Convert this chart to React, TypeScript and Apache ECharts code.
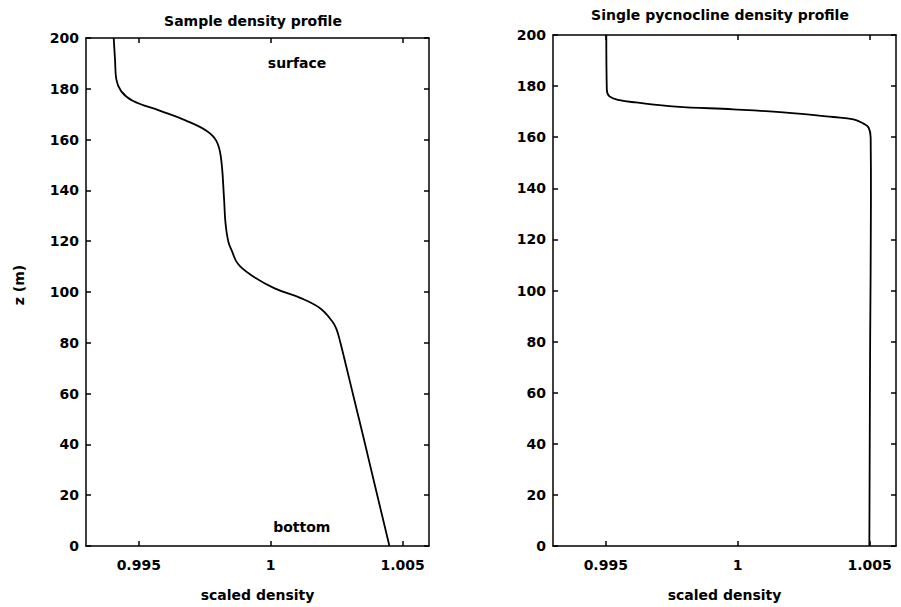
import React, { useEffect, useRef } from "react";
import * as echarts from "echarts";

// Left panel: sample density profile (z in m, scaled density)
const leftZ = [200, 191.5, 183.7, 179.1, 175.3, 171.4, 167.5, 163.6, 159.7, 153.3, 137.1, 129.3, 125.0, 121.6, 118.9, 116.4, 111.2, 106.7, 101.5, 97.6, 93.7, 88.5, 85.5, 80.1, 70.0, 56.7, 43.9, 33.4, 0];
const leftDensity = [0.99405, 0.9941, 0.99415, 0.99433, 0.99477, 0.99579, 0.99679, 0.99755, 0.99793, 0.99811, 0.99823, 0.99827, 0.99831, 0.99836, 0.99842, 0.99852, 0.99875, 0.99925, 1.00013, 1.00114, 1.00186, 1.00233, 1.00249, 1.00264, 1.00288, 1.00319, 1.00349, 1.00373, 1.0045];

// Right panel: single pycnocline density profile
const rightZ = [200, 178.6, 176.0, 174.5, 173.6, 172.0, 170.9, 169.7, 167.9, 167.0, 165.3, 163.8, 159.9, 136, 80, 27.2, 0];
const rightDensity = [0.99502, 0.99504, 0.99514, 0.99552, 0.99614, 0.99766, 0.99983, 1.00173, 1.00363, 1.00439, 1.00477, 1.00496, 1.00504, 1.00505, 1.00502, 1.005, 1.00499];

// Axis ticks
const xTicks = [0.995, 1, 1.005];
const xMin = 0.993;
const xMax = 1.006;
const zMin = 0;
const zMax = 200;
const zStep = 20;

// Annotations in the left panel
const noteLabels = ["surface", "bottom"];
const noteDensity = [1.001, 1.00118];
const noteZ = [190.2, 7.6];

const titles = ["Sample density profile", "Single pycnocline density profile"];
const xName = "scaled density";
const yName = "z (m)";

const FONT = "DejaVu Sans";
const textBase = { fontFamily: FONT, fontWeight: "bold" as const, fontSize: 14, color: "#000" };
const lineSt = { color: "#000", width: 1.5 };

function xAxisPair(gridIndex: number) {
  const common = {
    gridIndex,
    type: "value" as const,
    min: xMin,
    max: xMax,
    splitLine: { show: false },
    axisLine: { show: true, onZero: false, lineStyle: lineSt },
    axisTick: { show: true, inside: true, length: 5, customValues: xTicks, lineStyle: lineSt },
  };
  return [
    {
      ...common,
      position: "bottom",
      axisLabel: {
        ...textBase,
        margin: 12,
        customValues: xTicks,
        formatter: (v: number) => String(+v.toFixed(3)),
      },
      name: xName,
      nameLocation: "middle",
      nameGap: 42,
      nameTextStyle: textBase,
    },
    { ...common, position: "top", axisLabel: { show: false } },
  ];
}

function yAxisPair(gridIndex: number, withName: boolean) {
  const common = {
    gridIndex,
    type: "value" as const,
    min: zMin,
    max: zMax,
    interval: zStep,
    splitLine: { show: false },
    axisLine: { show: true, onZero: false, lineStyle: lineSt },
    axisTick: { show: true, inside: true, length: 5, lineStyle: lineSt },
  };
  return [
    {
      ...common,
      position: "left",
      axisLabel: { ...textBase, margin: 7 },
      ...(withName
        ? {
            name: yName,
            nameLocation: "middle",
            nameGap: 60,
            nameRotate: 90,
            nameTextStyle: { ...textBase, padding: [0, 0, 0, 14] },
          }
        : {}),
    },
    { ...common, position: "right", axisLabel: { show: false } },
  ];
}

export default function App() {
  const ref = useRef<HTMLDivElement>(null);
  useEffect(() => {
    if (!ref.current) return;
    const chart = echarts.init(ref.current, undefined, { renderer: "svg" });
    const option = {
      animation: false,
      backgroundColor: "#fff",
      title: [
        { text: titles[0], left: 248, top: 9, textAlign: "center", textStyle: textBase },
        { text: titles[1], left: 715, top: 3, textAlign: "center", textStyle: textBase },
      ],
      grid: [
        { left: 86, top: 38, width: 343, height: 515, containLabel: false },
        { left: 553, top: 35, width: 343, height: 515, containLabel: false },
      ],
      xAxis: [...xAxisPair(0), ...xAxisPair(1)],
      yAxis: [...yAxisPair(0, true), ...yAxisPair(1, false)],
      series: [
        {
          type: "line",
          xAxisIndex: 0,
          yAxisIndex: 0,
          data: leftZ.map((z, i) => [leftDensity[i], z]),
          symbol: "none",
          smooth: 0.4,
          lineStyle: { color: "#000", width: 1.8 },
        },
        {
          type: "line",
          xAxisIndex: 2,
          yAxisIndex: 2,
          data: rightZ.map((z, i) => [rightDensity[i], z]),
          symbol: "none",
          smooth: 0.4,
          lineStyle: { color: "#000", width: 1.8 },
        },
      ],
    };
    chart.setOption(option as any);
    // Place annotations using the library's own coordinate conversion
    const notes = noteLabels.map((t, i) => {
      const p = chart.convertToPixel({ xAxisIndex: 0, yAxisIndex: 0 } as any, [noteDensity[i], noteZ[i]]) as number[];
      return {
        type: "text",
        x: p[0],
        y: p[1],
        style: {
          text: t,
          fill: "#000",
          font: `bold 14px '${FONT}'`,
          textAlign: "center",
          textVerticalAlign: "middle",
        },
      };
    });
    chart.setOption({ graphic: notes } as any);
    return () => chart.dispose();
  }, []);
  return (
    <div
      ref={ref}
      style={{ position: "absolute", left: 0, top: 0, width: 901, height: 607, background: "#fff" }}
    />
  );
}
